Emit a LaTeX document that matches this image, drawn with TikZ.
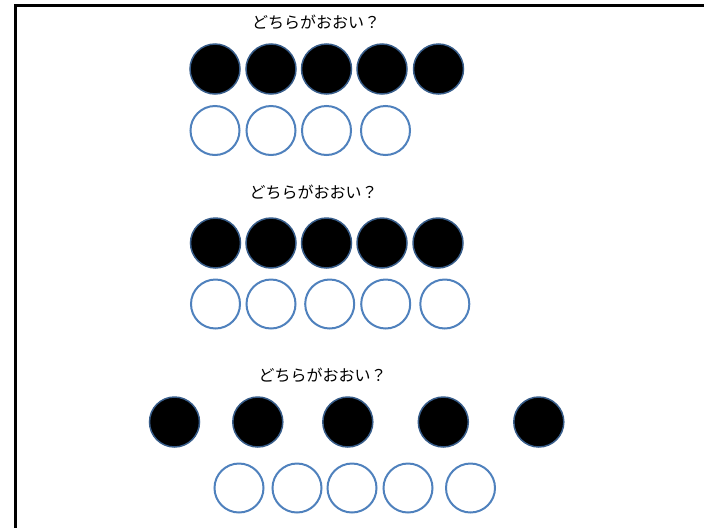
\documentclass[tikz,border=0pt]{standalone}
\usepackage{fontspec}
\newfontfamily\jpfont{Noto Sans CJK JP}
\definecolor{cmpblue}{HTML}{4F81BD}
\definecolor{cmpdark}{HTML}{385D8A}
\tikzset{cmpblk/.style={circle,draw=cmpdark,fill=black,line width=1.5pt,inner sep=0pt,minimum size=50pt},
         cmpwht/.style={circle,draw=cmpblue,fill=white,line width=2pt,inner sep=0pt,minimum size=49pt},
         cmpq/.style={font=\jpfont\fontsize{16}{19}\selectfont,inner sep=0pt}}
\begin{document}
\begin{tikzpicture}[x=1pt,y=-1pt]
    \useasboundingbox (0,0) rectangle (704,528);
    \draw[line width=3pt] (704,5)--(15,5)--(15,528);
    % first set
    \node[cmpq] (q1) at (316,22) {どちらがおおい？};
    \foreach \i/\x in {1/215,2/271,3/326.5,4/382,5/438.5} \node[cmpblk] (a\i) at (\x,69) {};
    \foreach \i/\x in {1/215,2/271,3/326.5,4/385.5} \node[cmpwht] (b\i) at (\x,130.5) {};
    % second set
    \node[cmpq] (q2) at (313.5,192) {どちらがおおい？};
    \foreach \i/\x in {1/215.5,2/271,3/326.5,4/382,5/438} \node[cmpblk] (c\i) at (\x,243) {};
    \foreach \i/\x in {1/215.5,2/271,3/329.7,4/385.7,5/444.8} \node[cmpwht] (d\i) at (\x,304) {};
    % third set
    \node[cmpq] (q3) at (322.5,375) {どちらがおおい？};
    \foreach \i/\x in {1/174.5,2/257.8,3/347.8,4/443.3,5/538.8} \node[cmpblk] (e\i) at (\x,422) {};
    \foreach \i/\x in {1/239,2/297,3/352,4/408,5/470.5} \node[cmpwht] (f\i) at (\x,488) {};
  \end{tikzpicture}
\end{document}
